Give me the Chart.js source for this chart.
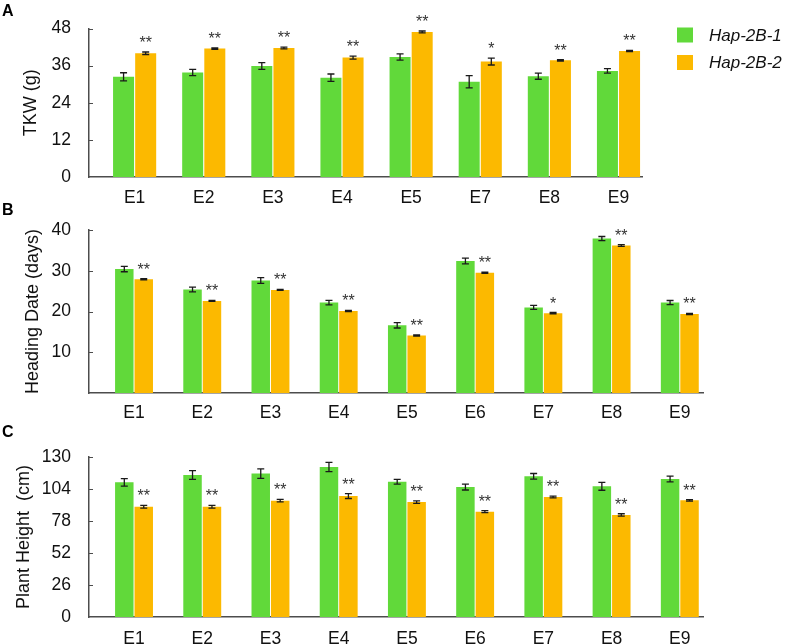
<!DOCTYPE html>
<html>
<head>
<meta charset="utf-8">
<script src="https://cdn.jsdelivr.net/npm/chart.js@4.4.1/dist/chart.umd.min.js"></script>
<style>
body { margin: 0; width: 787px; height: 644px; overflow: hidden; background: #fff; position: relative; }
.panel { position: absolute; left: 0; width: 787px; }
</style>
</head>
<body>
<div class="panel" style="top:0;height:215px"><canvas id="chartA"></canvas></div>
<div class="panel" style="top:200px;height:231px"><canvas id="chartB"></canvas></div>
<div class="panel" style="top:420px;height:235px"><canvas id="chartC"></canvas></div>
<script>
var seriesNames = ['Hap-2B-1', 'Hap-2B-2'];
var colors = ['#61d93a', '#fcb900'];

// A - TKW
var envA = ['E1', 'E2', 'E3', 'E4', 'E5', 'E7', 'E8', 'E9'];
var tkw1 = [32.4, 33.8, 35.9, 32.1, 38.8, 30.8, 32.6, 34.3];
var tkw1Err = [1.3, 1.0, 1.1, 1.2, 1.0, 2.0, 1.0, 0.7];
var tkw2 = [40.0, 41.5, 41.7, 38.6, 46.9, 37.3, 37.7, 40.7];
var tkw2Err = [0.4, 0.2, 0.3, 0.5, 0.3, 1.1, 0.2, 0.2];
var tkwSig = ['**', '**', '**', '**', '**', '*', '**', '**'];
var tkwTicks = [0, 12, 24, 36, 48];

// B - Heading date
var envB = ['E1', 'E2', 'E3', 'E4', 'E5', 'E6', 'E7', 'E8', 'E9'];
var hd1 = [30.4, 25.4, 27.6, 22.2, 16.6, 32.4, 21.0, 37.9, 22.2];
var hd1Err = [0.65, 0.6, 0.7, 0.55, 0.65, 0.7, 0.5, 0.5, 0.5];
var hd2 = [27.9, 22.6, 25.3, 20.1, 14.1, 29.5, 19.6, 36.2, 19.4];
var hd2Err = [0.15, 0.1, 0.1, 0.15, 0.15, 0.15, 0.15, 0.2, 0.15];
var hdSig = ['**', '**', '**', '**', '**', '**', '*', '**', '**'];
var hdTicks = [0, 10, 20, 30, 40];

// C - Plant height
var envC = ['E1', 'E2', 'E3', 'E4', 'E5', 'E6', 'E7', 'E8', 'E9'];
var ph1 = [109.4, 115.4, 116.5, 121.9, 109.9, 105.6, 114.3, 106.2, 112.1];
var ph1Err = [3.1, 3.5, 3.8, 3.8, 1.9, 2.4, 2.3, 3.2, 2.3];
var ph2 = [89.6, 89.6, 94.5, 98.3, 93.4, 85.6, 97.5, 82.9, 94.8];
var ph2Err = [1.1, 1.1, 1.0, 2.0, 1.0, 0.8, 0.7, 1.0, 0.6];
var phSig = ['**', '**', '**', '**', '**', '**', '**', '**', '**'];
var phTicks = [0, 26, 52, 78, 104, 130];

var FONT = "'Liberation Sans', Arial, sans-serif";
var AXIS = '#4d4d4d';

var extrasPlugin = {
  id: 'extras',
  afterDatasetsDraw: function(chart) {
    var o = chart.options.plugins.extras;
    var ctx = chart.ctx;
    var y = chart.scales.y;
    var area = chart.chartArea;
    ctx.save();
    // inward ticks on y axis
    ctx.strokeStyle = AXIS;
    ctx.lineWidth = 1;
    y.ticks.forEach(function(t) {
      if (t.value === y.min) return;
      var py = Math.round(y.getPixelForValue(t.value)) + 0.5;
      ctx.beginPath();
      ctx.moveTo(area.left, py);
      ctx.lineTo(area.left + 4, py);
      ctx.stroke();
    });
    // error bars
    ctx.strokeStyle = '#1a1a1a';
    ctx.lineWidth = 1.3;
    chart.data.datasets.forEach(function(ds, di) {
      var meta = chart.getDatasetMeta(di);
      meta.data.forEach(function(bar, i) {
        var v = ds.data[i].y, e = o.errors[di][i];
        var top = y.getPixelForValue(v + e), bot = y.getPixelForValue(v - e);
        ctx.beginPath();
        ctx.moveTo(bar.x, top); ctx.lineTo(bar.x, bot);
        ctx.moveTo(bar.x - 3.5, top); ctx.lineTo(bar.x + 3.5, top);
        ctx.moveTo(bar.x - 3.5, bot); ctx.lineTo(bar.x + 3.5, bot);
        ctx.stroke();
      });
    });
    // significance marks above second series
    var meta2 = chart.getDatasetMeta(1);
    ctx.fillStyle = '#333';
    ctx.font = '16px ' + FONT;
    ctx.textAlign = 'center';
    ctx.textBaseline = 'alphabetic';
    meta2.data.forEach(function(bar, i) {
      var v = chart.data.datasets[1].data[i].y, e = o.errors[1][i];
      var top = y.getPixelForValue(v + e);
      ctx.fillText(o.sig[i], bar.x, top - 4);
    });
    // panel letter
    ctx.fillStyle = '#000';
    ctx.font = 'bold 16px ' + FONT;
    ctx.textAlign = 'left';
    ctx.fillText(o.letter, 2, o.letterY);
    // legend
    if (o.legend) {
      ctx.font = 'italic 17px ' + FONT;
      ctx.textBaseline = 'middle';
      chart.data.datasets.forEach(function(ds, di) {
        var cy = 35 + di * 27.5;
        ctx.fillStyle = ds.backgroundColor;
        ctx.fillRect(677, cy - 7.5, 16, 15);
        ctx.fillStyle = '#111';
        ctx.fillText(ds.label, 709, cy + 1);
      });
    }
    ctx.restore();
  }
};

function makePanel(id, p) {
  var n = p.cats.length;
  return new Chart(document.getElementById(id), {
    type: 'bar',
    data: {
      datasets: [0, 1].map(function(k) {
        return {
          label: seriesNames[k],
          backgroundColor: colors[k],
          borderWidth: 0,
          categoryPercentage: p.catPct,
          barPercentage: 0.95,
          data: p.cats.map(function(c, i) { return { x: i, y: p.values[k][i] }; })
        };
      })
    },
    options: {
      responsive: true,
      maintainAspectRatio: false,
      animation: false,
      layout: { padding: { left: 0, right: p.right, top: p.top, bottom: 0 } },
      plugins: {
        legend: { display: false },
        tooltip: { enabled: false },
        extras: { errors: p.errors, sig: p.sig, letter: p.letter, letterY: p.letterY, legend: p.legend }
      },
      scales: {
        x: {
          type: 'linear',
          offset: false,
          bounds: 'data',
          min: -0.66,
          max: n - 0.66,
          grid: { display: false, drawTicks: false },
          border: { display: true, color: AXIS, width: 1.5 },
          afterBuildTicks: function(s) { s.ticks = p.cats.map(function(c, i) { return { value: i }; }); },
          afterFit: function(s) { s.height = 38; },
          ticks: {
            autoSkip: false, maxRotation: 0, padding: p.xPad, color: '#111',
            font: { family: FONT, size: 17.5 },
            callback: function(v) { return p.cats[v]; }
          }
        },
        y: {
          min: p.ticks[0],
          max: p.ticks[p.ticks.length - 1],
          grid: { display: false, drawTicks: false },
          border: { display: true, color: AXIS, width: 1.5 },
          afterBuildTicks: function(s) { s.ticks = p.ticks.map(function(v) { return { value: v }; }); },
          afterFit: function(s) { s.width = 89; },
          title: { display: true, text: p.title, color: '#111', font: { family: FONT, size: 18 }, padding: { top: p.titlePad, bottom: 0 } },
          ticks: {
            padding: 18, color: '#111',
            font: { family: FONT, size: 17.5 },
            callback: function(v) { return (p.hideZero && v === 0) ? '' : v; }
          }
        }
      }
    },
    plugins: [extrasPlugin]
  });
}

makePanel('chartA', {
  cats: envA, values: [tkw1, tkw2], errors: [tkw1Err, tkw2Err], sig: tkwSig, ticks: tkwTicks,
  title: 'TKW (g)', titlePad: 20, catPct: 0.64, right: 145, top: 26, xPad: 11, letter: 'A', letterY: 16, legend: true
});
makePanel('chartB', {
  cats: envB, values: [hd1, hd2], errors: [hd1Err, hd2Err], sig: hdSig, ticks: hdTicks, hideZero: true,
  title: 'Heading Date (days)', titlePad: 22, catPct: 0.57, right: 84, top: 30, xPad: 10, letter: 'B', letterY: 15
});
makePanel('chartC', {
  cats: envC, values: [ph1, ph2], errors: [ph1Err, ph2Err], sig: phSig, ticks: phTicks,
  title: 'Plant Height  (cm)', titlePad: 13, catPct: 0.57, right: 84, top: 37, xPad: 12, letter: 'C', letterY: 17
});
</script>
</body>
</html>
